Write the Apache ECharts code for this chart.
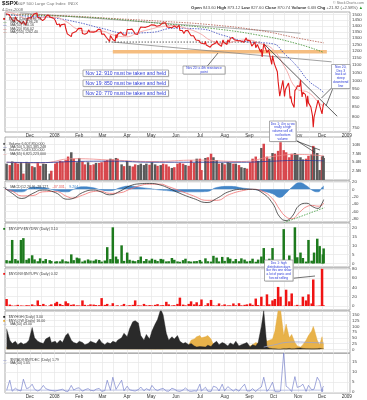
<!DOCTYPE html>
<html><head><meta charset="utf-8">
<script src="https://cdn.jsdelivr.net/npm/echarts/dist/echarts.min.js"></script>
<style>html,body{margin:0;padding:0;background:#fff}#c{width:367px;height:400px}</style>
</head><body><div id="c"></div>
<script>
// ---------- axis ticks ----------
const monthTicks = ['2007-12-01','2008-01-01','2008-02-01','2008-03-01','2008-04-01','2008-05-01','2008-06-01','2008-07-01','2008-08-01','2008-09-01','2008-10-01','2008-11-01','2008-12-01','2009-01-01'];
const monthLabels = ['Dec','2008','Feb','Mar','Apr','May','Jun','Jul','Aug','Sep','Oct','Nov','Dec','2009'];
const gridDates = ['2007-11-15','2007-12-01','2007-12-15','2008-01-01','2008-01-15','2008-02-01','2008-02-15','2008-03-01','2008-03-15','2008-04-01','2008-04-15','2008-05-01','2008-05-15','2008-06-01','2008-06-15','2008-07-01','2008-07-15','2008-08-01','2008-08-15','2008-09-01','2008-09-15','2008-10-01','2008-10-15','2008-11-01','2008-11-15','2008-12-01','2008-12-15','2009-01-01'];
const priceTicks = [750,800,850,900,950,1000,1050,1100,1150,1200,1250,1300,1350,1400,1450,1500];
const volTicks = [2.5,5,7.5,10];
const macdTicks = [-80,-60,-40,-20,0,20];
const upTicks = [0,5,10,15,20];
const dnTicks = [0,20,40,60,80];
const hlTicks = [0,25,50,75,100,125,150];
const adTicks = [0,5,10,15];

// ---------- price (daily closes) ----------
const priceDates = ['2007-11-01','2007-11-02','2007-11-05','2007-11-06','2007-11-07','2007-11-08','2007-11-09','2007-11-12','2007-11-13','2007-11-14','2007-11-15','2007-11-16','2007-11-19','2007-11-20','2007-11-21','2007-11-23','2007-11-26','2007-11-27','2007-11-28','2007-11-29','2007-11-30',
'2007-12-03','2007-12-04','2007-12-05','2007-12-06','2007-12-07','2007-12-10','2007-12-11','2007-12-12','2007-12-13','2007-12-14','2007-12-17','2007-12-18','2007-12-19','2007-12-20','2007-12-21','2007-12-24','2007-12-26','2007-12-27','2007-12-28','2007-12-31',
'2008-01-02','2008-01-03','2008-01-04','2008-01-07','2008-01-08','2008-01-09','2008-01-10','2008-01-11','2008-01-14','2008-01-15','2008-01-16','2008-01-17','2008-01-18','2008-01-22','2008-01-23','2008-01-24','2008-01-25','2008-01-28','2008-01-29','2008-01-30','2008-01-31',
'2008-02-01','2008-02-04','2008-02-05','2008-02-06','2008-02-07','2008-02-08','2008-02-11','2008-02-12','2008-02-13','2008-02-14','2008-02-15','2008-02-19','2008-02-20','2008-02-21','2008-02-22','2008-02-25','2008-02-26','2008-02-27','2008-02-28','2008-02-29',
'2008-03-03','2008-03-04','2008-03-05','2008-03-06','2008-03-07','2008-03-10','2008-03-11','2008-03-12','2008-03-13','2008-03-14','2008-03-17','2008-03-18','2008-03-19','2008-03-20','2008-03-24','2008-03-25','2008-03-26','2008-03-27','2008-03-28','2008-03-31',
'2008-04-01','2008-04-02','2008-04-03','2008-04-04','2008-04-07','2008-04-08','2008-04-09','2008-04-10','2008-04-11','2008-04-14','2008-04-15','2008-04-16','2008-04-17','2008-04-18','2008-04-21','2008-04-22','2008-04-23','2008-04-24','2008-04-25','2008-04-28','2008-04-29','2008-04-30',
'2008-05-01','2008-05-02','2008-05-05','2008-05-06','2008-05-07','2008-05-08','2008-05-09','2008-05-12','2008-05-13','2008-05-14','2008-05-15','2008-05-16','2008-05-19','2008-05-20','2008-05-21','2008-05-22','2008-05-23','2008-05-27','2008-05-28','2008-05-29','2008-05-30',
'2008-06-02','2008-06-03','2008-06-04','2008-06-05','2008-06-06','2008-06-09','2008-06-10','2008-06-11','2008-06-12','2008-06-13','2008-06-16','2008-06-17','2008-06-18','2008-06-19','2008-06-20','2008-06-23','2008-06-24','2008-06-25','2008-06-26','2008-06-27','2008-06-30',
'2008-07-01','2008-07-02','2008-07-03','2008-07-07','2008-07-08','2008-07-09','2008-07-10','2008-07-11','2008-07-14','2008-07-15','2008-07-16','2008-07-17','2008-07-18','2008-07-21','2008-07-22','2008-07-23','2008-07-24','2008-07-25','2008-07-28','2008-07-29','2008-07-30','2008-07-31',
'2008-08-01','2008-08-04','2008-08-05','2008-08-06','2008-08-07','2008-08-08','2008-08-11','2008-08-12','2008-08-13','2008-08-14','2008-08-15','2008-08-18','2008-08-19','2008-08-20','2008-08-21','2008-08-22','2008-08-25','2008-08-26','2008-08-27','2008-08-28','2008-08-29',
'2008-09-02','2008-09-03','2008-09-04','2008-09-05','2008-09-08','2008-09-09','2008-09-10','2008-09-11','2008-09-12','2008-09-15','2008-09-16','2008-09-17','2008-09-18','2008-09-19','2008-09-22','2008-09-23','2008-09-24','2008-09-25','2008-09-26','2008-09-29','2008-09-30',
'2008-10-01','2008-10-02','2008-10-03','2008-10-06','2008-10-07','2008-10-08','2008-10-09','2008-10-10','2008-10-13','2008-10-14','2008-10-15','2008-10-16','2008-10-17','2008-10-20','2008-10-21','2008-10-22','2008-10-23','2008-10-24','2008-10-27','2008-10-28','2008-10-29','2008-10-30','2008-10-31',
'2008-11-03','2008-11-04','2008-11-05','2008-11-06','2008-11-07','2008-11-10','2008-11-11','2008-11-12','2008-11-13','2008-11-14','2008-11-17','2008-11-18','2008-11-19','2008-11-20','2008-11-21','2008-11-24','2008-11-25','2008-11-26','2008-11-28',
'2008-12-01','2008-12-02','2008-12-03'];
const priceClose = [1509,1509,1502,1520,1476,1475,1453,1439,1481,1470,1451,1458,1434,1440,1416,1440,1407,1429,1469,1470,1481,
1473,1462,1485,1507,1504,1516,1477,1487,1488,1468,1446,1455,1454,1463,1484,1497,1497,1476,1478,1468,
1447,1447,1411,1417,1390,1409,1420,1401,1416,1380,1374,1333,1325,1311,1339,1353,1331,1353,1362,1355,1379,
1396,1380,1336,1326,1336,1331,1340,1349,1367,1349,1349,1348,1360,1343,1353,1372,1381,1380,1367,1331,
1331,1327,1333,1304,1294,1273,1320,1308,1316,1288,1277,1330,1299,1330,1349,1352,1342,1325,1316,1323,
1370,1367,1370,1370,1373,1366,1355,1361,1333,1329,1335,1365,1365,1390,1389,1376,1379,1388,1397,1397,1391,1386,
1409,1414,1407,1418,1392,1397,1389,1404,1403,1409,1424,1426,1427,1414,1391,1394,1375,1385,1391,1399,1400,
1386,1378,1377,1405,1361,1361,1358,1336,1340,1360,1361,1350,1338,1342,1318,1318,1315,1322,1284,1278,1280,
1284,1261,1262,1253,1273,1245,1254,1240,1229,1215,1246,1260,1261,1261,1278,1283,1253,1258,1235,1264,1284,1267,
1261,1249,1285,1290,1267,1296,1305,1290,1286,1293,1298,1278,1267,1275,1277,1292,1267,1272,1281,1301,1283,
1277,1275,1237,1242,1268,1225,1230,1249,1252,1193,1214,1157,1206,1255,1207,1189,1186,1210,1213,1106,1166,
1161,1115,1099,1057,996,985,910,899,1003,998,908,946,941,986,956,897,909,877,848,941,930,954,969,
966,1006,953,905,931,920,899,853,912,873,851,859,807,752,800,852,857,888,896,
816,849,871];

// ---------- price moving averages / trend lines ----------
const ma20Dates = ['2007-11-01','2007-11-15','2007-11-30','2007-12-14','2007-12-31','2008-01-15','2008-01-31','2008-02-15','2008-02-29','2008-03-14','2008-03-31','2008-04-15','2008-04-30','2008-05-15','2008-05-30','2008-06-13','2008-06-30','2008-07-15','2008-07-31','2008-08-15','2008-08-29','2008-09-15','2008-09-30','2008-10-15','2008-10-31','2008-11-14','2008-11-28','2008-12-03'];
const ma20 = [1530,1500,1460,1475,1478,1440,1370,1355,1355,1325,1310,1345,1372,1395,1403,1380,1340,1280,1255,1275,1285,1255,1215,1090,950,930,870,855];
const ma50Dates = ['2007-11-01','2007-11-30','2007-12-31','2008-01-31','2008-02-29','2008-03-31','2008-04-30','2008-05-30','2008-06-30','2008-07-31','2008-08-29','2008-09-30','2008-10-15','2008-10-31','2008-11-14','2008-11-28','2008-12-03'];
const ma50 = [1500,1485,1470,1430,1380,1340,1345,1380,1375,1320,1270,1255,1180,1090,1000,950,930];
const ma200Dates = ['2007-11-01','2008-01-15','2008-03-15','2008-05-15','2008-07-15','2008-09-15','2008-10-31','2008-12-03'];
const ma200 = [1500,1485,1460,1420,1380,1320,1255,1190];
const maLongDates = ['2007-11-15','2008-01-15','2008-03-15','2008-05-15','2008-07-15','2008-09-15','2008-10-31','2008-12-03'];
const maLong = [1505,1490,1465,1440,1410,1360,1300,1262];
const orangeBand = [['2008-03-14',1195],['2008-12-07',1195]];
const supportDotted = [['2008-03-05',1268],['2008-09-14',1268]];
const lowerTrend = [['2008-03-14',1268],['2008-12-13',1123]];
const steepTrend = [['2008-09-19',1255],['2008-12-20',804]];
const upperTrend = [['2007-11-19',1516],['2008-11-04',1339]];

// ---------- indicator panels (sampled Tue/Fri) ----------
const barDates = ['2007-11-02','2007-11-06','2007-11-09','2007-11-13','2007-11-16','2007-11-20','2007-11-23','2007-11-27','2007-11-30','2007-12-04','2007-12-07','2007-12-11','2007-12-14','2007-12-18','2007-12-21','2007-12-26','2007-12-28','2008-01-02','2008-01-04','2008-01-08','2008-01-11','2008-01-15','2008-01-18','2008-01-22','2008-01-25','2008-01-29','2008-02-01','2008-02-05','2008-02-08','2008-02-12','2008-02-15','2008-02-19','2008-02-22','2008-02-26','2008-02-29','2008-03-04','2008-03-07','2008-03-11','2008-03-14','2008-03-18','2008-03-20','2008-03-25','2008-03-28','2008-04-01','2008-04-04','2008-04-08','2008-04-11','2008-04-15','2008-04-18','2008-04-22','2008-04-25','2008-04-29','2008-05-02','2008-05-06','2008-05-09','2008-05-13','2008-05-16','2008-05-20','2008-05-23','2008-05-27','2008-05-30','2008-06-03','2008-06-06','2008-06-10','2008-06-13','2008-06-17','2008-06-20','2008-06-24','2008-06-27','2008-07-01','2008-07-03','2008-07-08','2008-07-11','2008-07-15','2008-07-18','2008-07-22','2008-07-25','2008-07-29','2008-08-01','2008-08-05','2008-08-08','2008-08-12','2008-08-15','2008-08-19','2008-08-22','2008-08-26','2008-08-29','2008-09-02','2008-09-05','2008-09-09','2008-09-12','2008-09-16','2008-09-19','2008-09-23','2008-09-26','2008-09-30','2008-10-03','2008-10-07','2008-10-10','2008-10-14','2008-10-17','2008-10-21','2008-10-24','2008-10-28','2008-10-31','2008-11-04','2008-11-07','2008-11-11','2008-11-14','2008-11-18','2008-11-20','2008-11-21','2008-11-25','2008-11-28','2008-12-01','2008-12-02','2008-12-03'];
const volume = [4.6,4.2,5.2,5.0,4.6,5.0,1.8,5.1,4.8, 3.9,3.6,5.0,4.0,4.6,4.5,1.8,2.6, 4.6,5.0,5.4,5.2,5.6,6.6,7.8,6.0,5.0, 6.2,5.2,4.4,5.0,4.2,4.4,4.8,4.8,5.0, 5.4,5.6,6.0,5.8,6.2,6.0,4.4,3.9, 5.4,4.0,3.8,4.4,4.2,4.6,4.2,4.6,4.3, 5.0,4.4,4.0,4.2,4.6,4.4,3.8,3.4,3.6, 4.6,4.8,4.6,4.2,4.0,5.6,4.8,6.0, 6.0,2.8,6.2,6.4,7.4,6.4,5.6,4.6,4.8, 4.4,5.0,4.8,4.6,4.6,4.2,3.6,3.4,3.2, 5.0,6.0,6.6,5.4,9.0,10.2,6.6,6.0,7.6, 7.4,8.2,11.2,8.4,7.8,6.4,7.4,7.6,7.2, 6.4,5.8,6.0,6.8,7.2,9.6,9.0,7.6,2.8, 6.6,6.8,6.2];
const volDir = ['ududduduu','dudduuud','ddddddudu','udduddudd','ddududud','uudduuuud','uududddud','dddudddu','ddudduudu','duududuud','ddduudduu','ddddddduu','uudduduuu','duu'].join('');
const volMaDates = ['2007-11-02','2007-12-14','2008-01-25','2008-03-14','2008-05-02','2008-06-27','2008-08-22','2008-09-30','2008-10-31','2008-12-03'];
const volMaBlue = [5.0,4.9,5.2,5.3,5.0,5.0,5.0,5.3,5.5,5.4];
const volMaRed = [5.0,4.8,6.0,5.6,5.2,5.6,5.2,6.6,7.2,6.8];

const macdDates = ['2007-10-31','2007-11-09','2007-11-21','2007-12-05','2007-12-17','2008-01-02','2008-01-17','2008-01-24','2008-02-05','2008-02-19','2008-02-27','2008-03-10','2008-03-24','2008-04-04','2008-04-17','2008-04-29','2008-05-12','2008-05-23','2008-06-06','2008-06-23','2008-07-10','2008-07-22','2008-08-07','2008-08-25','2008-09-05','2008-09-18','2008-09-30','2008-10-09','2008-10-17','2008-10-24','2008-11-03','2008-11-12','2008-11-19','2008-11-26','2008-12-01','2008-12-03'];
const macdLine = [3,-11,-25,-11,-2,-9,-27,-25,-9,-2,-6,-15,-4,9,15,16,12,3,-11,-25,-36,-25,-6,0,0,-11,-38,-75,-85,-75,-43,-38,-47,-52,-38,-28];
const signalLine = [0,-5,-18,-17,-7,-6,-20,-24,-16,-6,-5,-11,-9,0,10,14,14,7,-4,-18,-30,-30,-14,-3,0,-6,-26,-55,-75,-80,-62,-47,-44,-46,-43,-37];
const macdHist = [3,-6,-7,6,5,-3,-7,-1,7,4,-1,-4,5,9,5,2,-2,-4,-7,-7,-6,5,8,3,0,-5,-12,-22,-10,5,18,9,-3,-7,5,9];
const macdTrend = [['2008-10-14',-91],['2008-12-04',-50]];

const upDown = [1.8,1.5,13,2.4,1.6,13,14,2.0,2.8, 4.5,2.2,1.2,2.8,1.4,2.4,1.8,1.3, 1.0,1.2,1.1,2.2,1.2,1.0,5.0,1.8,3.2, 2.8,1.0,1.6,2.2,1.6,1.5,2.2,1.9,1.0, 1.6,9.0,2.4,20,3.8,2.3,10,1.4, 6.0,2.0,1.5,1.2,1.9,3.8,1.3,2.4,1.6, 2.6,2.0,1.3,2.5,2.2,1.1,1.2,3.0,2.0, 1.1,0.9,1.8,2.6,1.2,1.0,1.2,1.3, 1.9,1.0,2.8,1.2,1.0,4.2,3.2,1.1,3.6, 1.4,3.4,2.6,1.2,2.4,1.2,2.8,2.1,1.1, 1.4,2.6,0.9,2.1,3.8,8.5,1.0,2.6,8.5, 0.8,0.6,1.2,19,1.6,4.4,0.8,20,3.4, 6.0,3.0,1.0,13,1.5,0.5,6.0,13.7,9.6, 0.3,5.0,8.3];
const downUp = [15,3,1,1,2.5,1.2,0.8,1.8,1.4, 3.5,1.3,12,2,4.5,1.2,1.4,3.5, 6,9,4.5,2,10,6,2.5,3.5,1.4, 1.2,12,2.5,1.5,3.5,3,2,1.8,17, 2.5,4.5,0.8,6,0.6,1.5,1.4,4.5, 0.8,1.8,2.5,12,1.5,1,4.5,1.5,2, 1.2,2.5,4,1.5,1.8,9,3.5,1.2,1.8, 4.5,18,3,1.4,4.5,10,3.5,8, 2.5,14,1.5,6,13,1.5,1.2,5.5,1.2, 3.5,1.4,1.5,5.5,1.5,6,1.5,2.5,3.5, 5.5,2.5,16,2,20,1,25,3.5,12, 15,41,20,0.6,35,10,27,0.8,2.5, 1,20,12,25,5.5,57,0.6,0.5,1, 80,1,1.2];
const newHighs = [90,40,25,35,20,30,22,28,40, 95,50,35,30,25,45,55,30, 35,25,40,30,60,70,40,30,25, 35,30,20,25,35,30,25,45,30, 20,30,25,35,30,40,50,70, 55,90,120,125,115,60,40,65,45, 80,110,130,175,150,70,40,55,45, 60,35,25,30,20,25,15,10, 12,8,10,18,12,25,35,20,30, 25,15,28,20,35,15,20,25,30, 10,20,15,30,100,170,10,5,3, 2,1,1,3,2,4,2,3,5, 6,4,3,3,2,1,2,3,4, 3,3,3];
const newLows = [10,8,6,8,5,6,5,6,8, 10,8,6,8,10,8,6,8, 10,12,20,25,40,50,30,15,10, 8,10,8,6,8,10,8,6,10, 12,15,10,20,15,10,8,6, 4,3,5,6,4,3,3,4,3, 3,2,3,2,3,4,5,4,6, 8,12,10,15,18,40,45,55, 60,50,55,60,45,20,15,12,15, 10,8,6,10,8,12,10,8,10, 15,20,30,25,45,60,35,40,45, 80,170,175,60,110,50,65,30,15, 10,20,40,60,80,100,90,40,20, 55,30,20];
const hlMaDates = ['2008-09-19','2008-10-03','2008-10-17','2008-10-31','2008-11-14','2008-12-03'];
const hlMa = [10,20,30,32,30,28];
const advDec = [0.9,6.0,0.5,2.0,1.1,0.6,6.5,1.8,2.2, 4.0,1.5,0.6,1.2,3.4,1.8,1.0,0.7, 0.6,0.4,1.2,1.5,0.5,0.4,3.4,1.1,2.0, 2.2,0.5,1.2,1.8,1.0,0.7,1.5,1.9,0.4, 0.8,6.0,1.0,7.5,1.4,1.2,6.0,0.7, 3.0,1.2,0.8,0.6,1.3,2.6,0.7,1.8,0.9, 3.4,1.4,0.8,1.6,1.9,0.6,0.5,2.0,1.5, 0.6,0.4,1.1,2.2,0.6,0.4,0.7,0.5, 4.0,0.6,2.5,0.5,0.4,3.0,2.4,0.6,4.0, 0.7,2.8,1.8,0.6,1.6,0.5,2.2,4.0,0.6, 0.7,1.8,0.3,1.6,2.6,7.5,0.4,1.8,5.0, 0.3,0.2,0.6,19.6,3.0,1.8,0.3,7.8,2.4, 3.0,4.0,0.4,3.4,1.2,0.2,1.5,7.5,5.5, 0.1,2.5,3.0];
const adMaDates = ['2007-11-02','2008-02-01','2008-05-02','2008-08-01','2008-10-03','2008-12-03'];
const adMa = [1.1,1.0,1.1,1.05,1.0,1.05];

// ---------- build chart ----------
const FONT = 'Liberation Sans';
const ts = d => echarts.number.parseDate(d).getTime();
const X_MIN = ts('2007-10-31'), X_MAX = ts('2009-01-05');
const L = 5, R = 17;
const grids = [
  {top:12, height:120},
  {top:137, height:43},
  {top:181, height:41},
  {top:223, height:44},
  {top:268, height:42},
  {top:311, height:42},
  {top:353.3, height:39.7}
].map(g => Object.assign({left:L, right:R, show:true, borderColor:'#9a9a9a', borderWidth:0.8}, g));

const tickTimes = monthTicks.map(ts);
const gridTimes = gridDates.map(ts);
function xFmt(v){
  let best = 0, bd = Infinity;
  tickTimes.forEach((t,i)=>{ const d = Math.abs(t - v); if (d < bd){bd = d; best = i;} });
  return monthLabels[best];
}
function xAx(gi, show){
  return {type:'value', gridIndex:gi, min:X_MIN, max:X_MAX,
    axisLine:{show:false}, axisTick:{show:false, customValues:gridTimes},
    axisLabel:{show:show, customValues:tickTimes, formatter:xFmt, fontSize:4.6, color:'#333', margin:1.5, fontFamily:FONT, hideOverlap:false},
    splitLine:{show:true, lineStyle:{color:'#e6e6e6', width:0.7}}};
}
function yAx(gi, type, min, max, ticks, fmt){
  const a = {type:type, gridIndex:gi, position:'right', min:min, max:max,
    axisLine:{show:false}, axisTick:{show:false, customValues:ticks},
    axisLabel:{customValues:ticks, formatter:fmt, fontSize:4.4, color:'#444', margin:2, fontFamily:FONT},
    splitLine:{show:true, lineStyle:{color:'#e6e6e6', width:0.7}}};
  if (type === 'log') a.logBase = 10;
  return a;
}
const xAxes = grids.map((g,i)=>xAx(i, i===0 || i===6));
const yAxes = [
  yAx(0,'log',730,1525,priceTicks, v=>String(Math.round(v))),
  yAx(1,'value',0,12.1,volTicks, v=>(v===5?'5.0':v)+'B'),
  yAx(2,'value',-89,22.6,macdTicks, v=>String(v)),
  yAx(3,'value',-2,22.4,upTicks, v=>String(v)),
  yAx(4,'value',-8.6,81.7,dnTicks, v=>String(v)),
  yAx(5,'value',-16,167,hlTicks, v=>String(v)),
  yAx(6,'value',-0.4,19.5,adTicks, v=>String(v))
];

const pair = (ds, vs) => ds.map((d,i)=>[ts(d), vs[i]]);
const pts = arr => arr.map(p => [ts(p[0]), p[1]]);
function line(gi, data, color, width, extra){
  return Object.assign({type:'line', xAxisIndex:gi, yAxisIndex:gi, data:data, symbol:'none', silent:true,
    lineStyle:{color:color, width:width}}, extra||{});
}
const BW = 2.5;
const series = [
  line(0, pts(orangeBand), '#f5bd80', 3.6, {z:1}),
  line(0, pts(upperTrend), '#9a9a9a', 0.8, {z:2}),
  line(0, pts(lowerTrend), '#8a8a8a', 0.8, {z:2}),
  line(0, pts(supportDotted), '#222', 0.9, {z:2, lineStyle:{color:'#222', width:0.9, type:[1.2,1.8]}}),
  line(0, pair(maLongDates, maLong), '#b0584a', 0.8, {smooth:true, z:3, lineStyle:{color:'#b0584a', width:0.8, type:[1.5,1.2]}}),
  line(0, pair(ma200Dates, ma200), '#3b8f2e', 0.8, {smooth:true, z:3, lineStyle:{color:'#3b8f2e', width:0.8, type:[1.5,1.2]}}),
  line(0, pair(ma50Dates, ma50), '#3344bb', 0.8, {smooth:true, z:3, lineStyle:{color:'#3344bb', width:0.8, type:[1.5,1.2]}}),
  line(0, pair(ma20Dates, ma20), '#f3a3a3', 0.9, {smooth:true, z:4}),
  line(0, pts(steepTrend), '#333', 0.8, {z:4}),
  line(0, pair(priceDates, priceClose), '#e01a1a', 1.1, {z:6}),
  {type:'bar', xAxisIndex:1, yAxisIndex:1, barWidth:BW, silent:true, z:2,
    data: barDates.map((d,i)=>({value:[ts(d), volume[i]], itemStyle:{color: volDir[i]==='u' ? '#5a5a5a' : '#d8474d'}}))},
  line(1, pair(volMaDates, volMaRed), '#f08a8a', 0.8, {smooth:true, z:4}),
  line(1, pair(volMaDates, volMaBlue), '#2b3a99', 0.8, {smooth:true, z:4}),
  line(2, pair(macdDates, macdHist), '#3a7fc4', 0.5, {smooth:true, areaStyle:{color:'#3a7fc4', opacity:0.95}, z:2}),
  line(2, pair(macdDates, signalLine), '#f07070', 0.8, {smooth:true, z:3}),
  line(2, pair(macdDates, macdLine), '#333', 0.8, {smooth:true, z:4}),
  line(2, pts(macdTrend), '#3a9a3a', 0.8, {z:5, lineStyle:{color:'#3a9a3a', width:0.8, type:[1.5,1.2]}}),
  {type:'bar', xAxisIndex:3, yAxisIndex:3, barWidth:BW, silent:true, itemStyle:{color:'#1d7a1d'}, data: pair(barDates, upDown)},
  {type:'bar', xAxisIndex:4, yAxisIndex:4, barWidth:BW, silent:true, itemStyle:{color:'#f01414'}, data: pair(barDates, downUp)},
  line(5, pair(barDates, newLows), '#e3a93a', 0.4, {areaStyle:{color:'#e8b24a', opacity:1}, z:2}),
  line(5, pair(barDates, newHighs), '#1e1e1e', 0.4, {areaStyle:{color:'#2a2a2a', opacity:1}, z:3}),
  line(5, pair(hlMaDates, hlMa), '#9aa3cf', 0.8, {smooth:true, z:4}),
  line(6, pair(adMaDates, adMa), '#aab2de', 0.8, {smooth:true, z:2}),
  line(6, pair(barDates, advDec), '#6570c4', 0.6, {z:3})
];

// ---------- text, legends, annotations ----------
const g = [];
function txt(x, y, text, size, color, extra){
  g.push({type:'text', x:x, y:y, z:100, silent:true,
    style:Object.assign({text:text, fontSize:size, fill:color, fontFamily:FONT, verticalAlign:'top'}, extra||{})});
}
function legend(x, y, sym, symColor, text){
  g.push({type:'text', x:x, y:y, z:100, silent:true, style:{
    text:'{s|'+sym+'} {t|'+text+'}', fontFamily:FONT, verticalAlign:'top',
    rich:{s:{fill:symColor, fontSize:3.8, fontFamily:FONT}, t:{fill:'#444', fontSize:3.6, fontFamily:FONT}}}});
}
function box(x, y, w, h, lines, fs){
  g.push({type:'group', x:x, y:y, z:110, silent:true, children:[
    {type:'rect', shape:{x:0.8, y:0.8, width:w, height:h}, style:{fill:'#d6d6d6'}, z:110},
    {type:'rect', shape:{x:0, y:0, width:w, height:h}, style:{fill:'#fff', stroke:'#8a8a8a', lineWidth:0.7}, z:111},
    {type:'text', z:112, style:{x:w/2, y:h/2, text:lines.join('\n'), fontSize:fs, fill:'#2a3ad8', fontFamily:FONT,
      align:'center', verticalAlign:'middle', lineHeight:fs*1.18}}
  ]});
}
function lead(x1, y1, x2, y2){
  g.push({type:'line', z:105, silent:true, shape:{x1:x1, y1:y1, x2:x2, y2:y2}, style:{stroke:'#333', lineWidth:0.7}});
}

txt(2, 0.5, '$SPX', 6.2, '#222', {fontWeight:'bold'});
txt(17, 1.6, 'S&P 500 Large Cap Index  INDX', 4.2, '#777');
txt(2, 8, '4-Dec-2008', 4, '#666');
txt(364, 0.8, '\u00a9 StockCharts.com', 3.6, '#777', {align:'right'});
g.push({type:'text', x:363, y:5.6, z:100, silent:true, style:{
  text:'{b|Open} 843.60 {b|High} 873.12 {b|Low} 827.60 {b|Close} 870.74 {b|Volume} 6.6B {b|Chg} +21.92 (+2.58%) {u|\u25b2}',
  fontSize:4.2, fill:'#555', fontFamily:FONT, align:'right', verticalAlign:'top',
  rich:{b:{fontWeight:'bold', fontSize:4.2, fill:'#333', fontFamily:FONT}, u:{fill:'#2a9a2a', fontSize:4.2}}}});

legend(3, 12.6, '\u25a0', '#c81818', '$SPX (Daily) 870.74');
legend(3, 15.9, '\u2014', '#3b8f2e', 'MA(200) 1196.28');
legend(3, 19.2, '\u2014', '#3344bb', 'MA(50) 930.16');
legend(3, 22.5, '\u2014', '#e05050', 'MA(20) 856.02');
legend(3, 25.8, '\u2014', '#b0584a', 'MA(250) 1262.40');
legend(3, 137.8, '\u25a0', '#5a5a5a', 'Volume 6,607,850,000');
legend(3, 141.1, '\u2014', '#2b3a99', 'MA(50) 5,361,385,248');
legend(3, 144.4, '\u25a0', '#5a5a5a', 'Volume 5,049,320,000');
legend(3, 147.7, '\u2014', '#f08a8a', 'MA(65) 6,821,223,000');
g.push({type:'text', x:3, y:181.2, z:100, silent:true, style:{
  text:'{s|\u2014} {t|MACD(12,26,9) -28.127,} {r|-37.331,} {b|9.204}', fontFamily:FONT, verticalAlign:'top',
  rich:{s:{fill:'#333', fontSize:3.8}, t:{fill:'#444', fontSize:3.6, fontFamily:FONT}, r:{fill:'#e05050', fontSize:3.6, fontFamily:FONT}, b:{fill:'#3a7fc4', fontSize:3.6, fontFamily:FONT}}}});
legend(3, 223.4, '\u25a0', '#1d7a1d', '$NYUPV:$NYDNV (Daily) 3.10');
legend(3, 268.4, '\u25a0', '#f01414', '$NYDNV:$NYUPV (Daily) 0.32');
legend(3, 311.3, '\u25a0', '#1e1e1e', '$NYHGH (Daily) 3.00');
legend(3, 314.6, '\u25a0', '#e3a93a', '$NYLOW (Daily) 16.00');
legend(3, 317.9, '\u2014', '#9aa3cf', 'MA(50) 43.00');
legend(3, 353.6, '\u2014', '#6570c4', '$NYADV:$NYDEC (Daily) 1.79');
legend(3, 356.9, '\u2014', '#aab2de', 'MA(50) 1.05');

box(83, 70, 85.5, 6.4, ['Nov 12: 910 must be taken and held'], 5);
box(83, 80, 85.5, 6.4, ['Nov 19: 850 must be taken and held'], 5);
box(83, 90, 85.5, 6.4, ['Nov 20: 770 must be taken and held'], 5);
lead(207, 66.5, 218, 53);
box(183, 66, 42, 8, ['Nov 20: a 4th resistance', 'point'], 3.3);
lead(332, 87.5, 321.5, 98);
lead(333, 88, 326, 106);
box(331.5, 64.5, 18.5, 24, ['Nov 20,', 'Dec 3', 'back at', 'steep', 'downtrend', 'line'], 3.3);
lead(295, 139.5, 315, 152.5);
lead(295, 140.5, 320, 150);
box(269.5, 121, 26.5, 20.5, ['Dec 1: 4 in a row', 'really a high', 'volume sell off,', 'not bottom', 'volume'], 3.2);
lead(292.5, 278.3, 315, 276);
box(264.5, 260, 28.5, 21, ['Dec 1: high', 'distribution days', 'like this one show', 'a lot of panic and', 'forced selling'], 3.2);

const chart = echarts.init(document.getElementById('c'), null, {renderer:'canvas'});
chart.setOption({
  animation:false, backgroundColor:'#fff',
  textStyle:{fontFamily:FONT},
  grid:grids, xAxis:xAxes, yAxis:yAxes, series:series, graphic:g
});
</script>
</body></html>
